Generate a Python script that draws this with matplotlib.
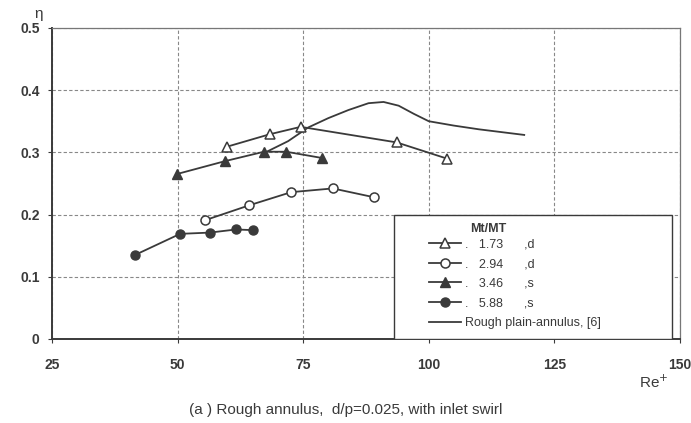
import numpy as np
import matplotlib
matplotlib.use("Agg")
import matplotlib.pyplot as plt
from matplotlib.patches import Rectangle

plt.rcParams['font.family'] = ['Liberation Sans', 'DejaVu Sans']

# Re+ / eta values
re_173 = [59.8, 68.3, 74.5, 93.6, 103.6]
eta_173 = [0.309, 0.329, 0.341, 0.316, 0.290]

re_294 = [55.5, 64.3, 72.6, 80.9, 89.0]
eta_294 = [0.191, 0.215, 0.236, 0.242, 0.228]

re_346 = [49.8, 59.5, 67.2, 71.6, 78.7]
eta_346 = [0.265, 0.286, 0.301, 0.301, 0.291]

re_588 = [41.5, 50.5, 56.4, 61.6, 65.1]
eta_588 = [0.135, 0.169, 0.171, 0.176, 0.175]

re_plain = [68, 72, 76, 80, 84, 88, 91, 94, 97, 100, 105, 110, 115, 119]
eta_plain = [0.302, 0.318, 0.340, 0.355, 0.368, 0.379, 0.381, 0.375,
             0.362, 0.350, 0.343, 0.337, 0.332, 0.328]

labels = [".   1.73      ,d", ".   2.94      ,d", ".   3.46      ,s", ".   5.88      ,s",
          "Rough plain-annulus, [6]"]

ink = '#3a3a3a'

fig = plt.figure(figsize=(6.91, 4.23), dpi=100)
ax = fig.add_axes([0.0753, 0.1986, 0.9087, 0.7354])

ax.plot(re_plain, eta_plain, color=ink, lw=1.3, label=labels[4], zorder=2)
h1, = ax.plot(re_173, eta_173, color=ink, lw=1.3, marker='^', ms=6.5,
              mfc='white', mec=ink, mew=1.1, label=labels[0], zorder=3)
h2, = ax.plot(re_294, eta_294, color=ink, lw=1.3, marker='o', ms=6.5,
              mfc='white', mec=ink, mew=1.1, label=labels[1], zorder=3)
h3, = ax.plot(re_346, eta_346, color=ink, lw=1.3, marker='^', ms=6.5,
              mfc=ink, mec=ink, label=labels[2], zorder=3)
h4, = ax.plot(re_588, eta_588, color=ink, lw=1.3, marker='o', ms=6.5,
              mfc=ink, mec=ink, label=labels[3], zorder=3)

ax.set_xlim(25, 150)
ax.set_ylim(0, 0.5)
ax.set_xticks([25, 50, 75, 100, 125, 150])
ax.set_yticks([0, 0.1, 0.2, 0.3, 0.4, 0.5])
ax.set_yticklabels(['0', '0.1', '0.2', '0.3', '0.4', '0.5'])
ax.grid(True, color='#888888', ls=(0, (3, 2)), lw=0.8)
ax.tick_params(labelsize=10, colors=ink, length=3)
ax.tick_params(axis='x', pad=11)
ax.tick_params(axis='y', pad=6)
for lab in ax.get_xticklabels() + ax.get_yticklabels():
    lab.set_fontweight('bold')
for s in ['left', 'bottom']:
    ax.spines[s].set_color(ink)
    ax.spines[s].set_linewidth(1.4)
for s in ['top', 'right']:
    ax.spines[s].set_color('#777777')
    ax.spines[s].set_linewidth(0.9)

# legend box
box = Rectangle((0.545, 0.0), 0.443, 0.4, transform=ax.transAxes,
                facecolor='white', edgecolor=ink, lw=1.0, zorder=4)
ax.add_patch(box)
ax.text(0.666, 0.345, "Mt/MT", transform=ax.transAxes, fontsize=9,
        color=ink, fontweight='bold', zorder=5)

handles = [h1, h2, h3, h4, ax.get_lines()[0]]
leg = ax.legend(handles, labels, loc='lower left', bbox_to_anchor=(0.582, -0.005),
                frameon=False, fontsize=9, handlelength=2.6, handletextpad=0.3,
                labelspacing=0.62, labelcolor=ink)
leg.set_zorder(6)

fig.text(0.05, 0.958, "η", fontsize=11, color=ink)
fig.text(0.925, 0.083, "Re$^{+}$", fontsize=11, color=ink)
fig.text(0.5, 0.022, "(a ) Rough annulus,  d/p=0.025, with inlet swirl",
         ha='center', fontsize=11, color=ink)

fig.savefig('out.png', dpi=100)
